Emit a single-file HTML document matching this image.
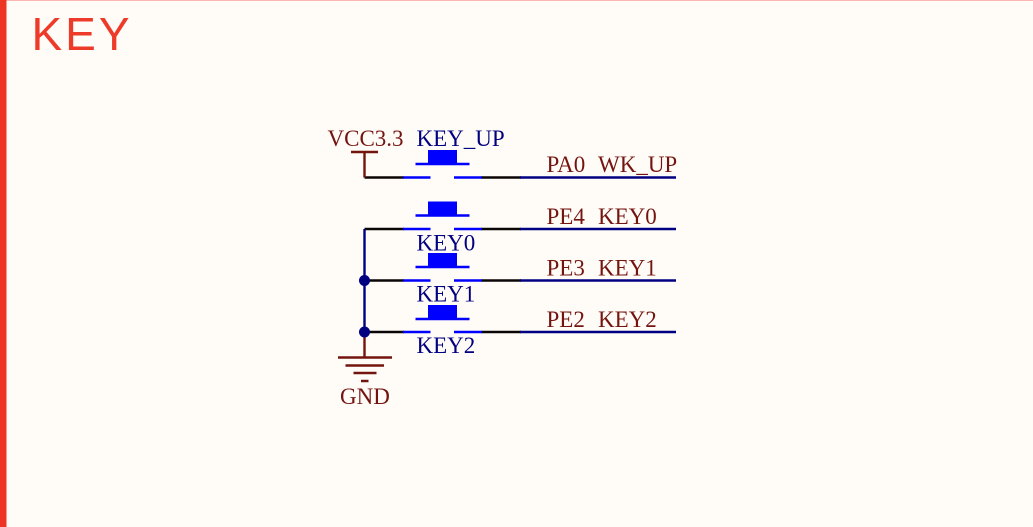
<!DOCTYPE html>
<html><head><meta charset="utf-8"><style>
html,body{margin:0;padding:0;background:#fffbf7;width:1033px;height:527px;overflow:hidden}
svg{display:block}
</style></head><body>
<svg width="1033" height="527" viewBox="0 0 1033 527" xmlns="http://www.w3.org/2000/svg">
<rect width="1033" height="527" fill="#fffbf7"/>
<rect x="0" y="0" width="1033" height="1" fill="#fbb8b0"/>
<rect x="0" y="0" width="6.500" height="527" fill="#ee3424"/>
<text x="31.500" y="50" font-family="'Liberation Sans',sans-serif" font-size="46" fill="#ee3a28" letter-spacing="3">KEY</text>
<g fill="none" stroke-width="2.400">
<path d="M364.500 177.500H404M364.500 229H404M364.500 280.500H404M364.500 332H404M481 177.500H521M481 229H521M481 280.500H521M481 332H521" stroke="#0b0606"/>
<path d="M364.500 229V332" stroke="#000080"/>
<path d="M520 177.500H676M520 229H676M520 280.500H676M520 332H676" stroke="#000080"/>
<path d="M351 152H378M364.500 152V177.500M364.500 332V357M338 357.500H392M345.500 365.500H384M353.500 373H376.500M361 381H368.500" stroke="#74140f"/>
<path d="M403 177.500H430.500M454 177.500H482M403 229H430.500M454 229H482M403 280.500H430.500M454 280.500H482M403 332H430.500M454 332H482" stroke="#0000ff"/>
<path d="M415.500 164H469.500M415.500 215.500H469.500M415.500 267H469.500M415.500 319H469.500" stroke="#0000ff"/>
</g>
<g fill="#0000ff">
<rect x="428" y="150" width="29" height="14"/>
<rect x="428" y="201.500" width="29" height="14"/>
<rect x="428" y="253" width="29" height="14"/>
<rect x="428" y="305" width="29" height="14"/>
</g>
<circle cx="364.500" cy="280.500" r="5.500" fill="#000080"/>
<circle cx="364.500" cy="332" r="5.500" fill="#000080"/>
<g font-family="'Liberation Serif',serif" font-size="23">
<g fill="#000080">
<text x="416.500" y="146">KEY_UP</text>
<text x="416.500" y="250.500">KEY0</text>
<text x="416.500" y="301.500">KEY1</text>
<text x="416.500" y="353">KEY2</text>
</g>
<g fill="#74140f">
<text x="327.500" y="146">VCC3.3</text>
<text x="340" y="404">GND</text>
<text x="546.500" y="172">PA0</text>
<text x="598" y="172">WK_UP</text>
<text x="546.500" y="224">PE4</text>
<text x="598" y="224">KEY0</text>
<text x="546.500" y="275.500">PE3</text>
<text x="598" y="275.500">KEY1</text>
<text x="546.500" y="327">PE2</text>
<text x="598" y="327">KEY2</text>
</g>
</g>
</svg>
</body></html>
